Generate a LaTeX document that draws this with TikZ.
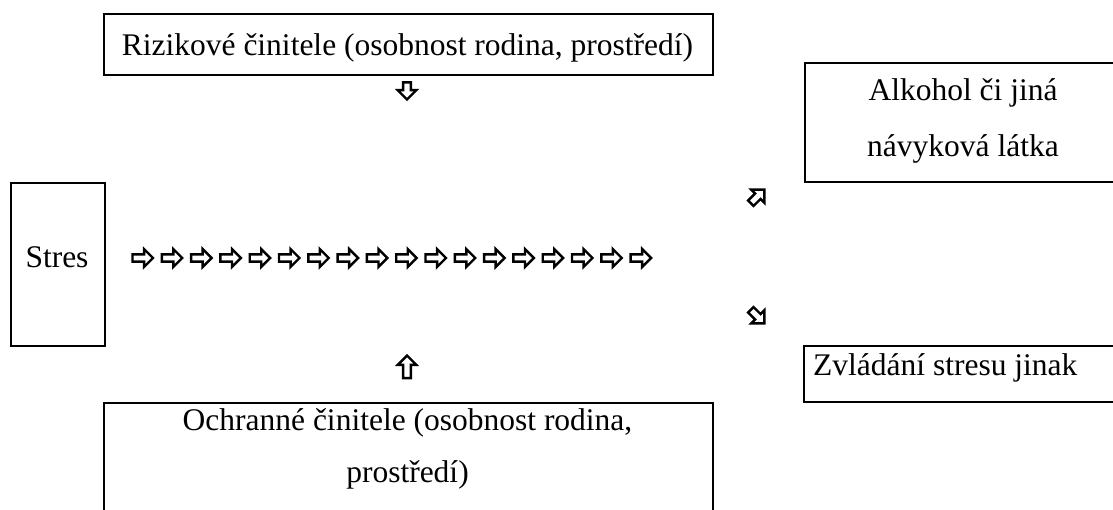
\documentclass[tikz,border=0pt]{standalone}
\usepackage{fontspec}
\setmainfont{Liberation Serif}

\begin{document}
\begin{tikzpicture}[x=1pt,y=-1pt,
    box node/.style={draw,line width=2.4pt,inner sep=0pt,anchor=north west},
    text node/.style={font=\fontsize{31.5}{54}\selectfont,inner sep=0pt,anchor=base},
    pics/white arrow/.style={code={
      \draw[line width=2.4pt,line join=miter]
        (-#1,-3.5) -- (1,-3.5) -- (1,-8.5) -- (9.5,0) -- (1,8.5) -- (1,3.5) -- (-#1,3.5) -- cycle;}}]
  \useasboundingbox (0,0) rectangle (1113,509);

  % boxes
  \node[box node,minimum width=609pt,minimum height=61pt] (rizik) at (103,13) {};
  \node[box node,minimum width=94pt,minimum height=163pt] (stres) at (10,182) {};
  \node[box node,minimum width=330pt,minimum height=119pt] (alk) at (804,62) {};
  \node[box node,minimum width=330pt,minimum height=56pt] (zvl) at (803,345) {};
  \node[box node,minimum width=609pt,minimum height=130pt] (ochr) at (103,402) {};

  % texts
  \node[text node] (rizik text) at (407.5,55) {Rizikové činitele (osobnost rodina, prostředí)};
  \node[text node] (stres text) at (57,267) {Stres};
  \node[text node] (alk text1) at (963,100) {Alkohol či jiná};
  \node[text node] (alk text2) at (963,156) {návyková látka};
  \node[text node,anchor=base west] (zvl text) at (813,375) {Zvládání stresu jinak};
  \node[text node] (ochr text1) at (407.5,430) {Ochranné činitele (osobnost rodina,};
  \node[text node] (ochr text2) at (407.5,482) {prostředí)};

  % arrows
  \foreach \i in {0,...,17}
    \pic[scale=1.05] (r\i) at ({143+29.3*\i},258) {white arrow=10};
  \pic[rotate=-90,scale=1.1] (down) at (407,89) {white arrow=6};
  \pic[rotate=90,scale=1.1] (up) at (407,366) {white arrow=11};
  \pic[rotate=45,scale=1.1] (ne) at (757,197) {white arrow=8};
  \pic[rotate=-45,scale=1.1] (se) at (757,316) {white arrow=8};
\end{tikzpicture}
\end{document}
